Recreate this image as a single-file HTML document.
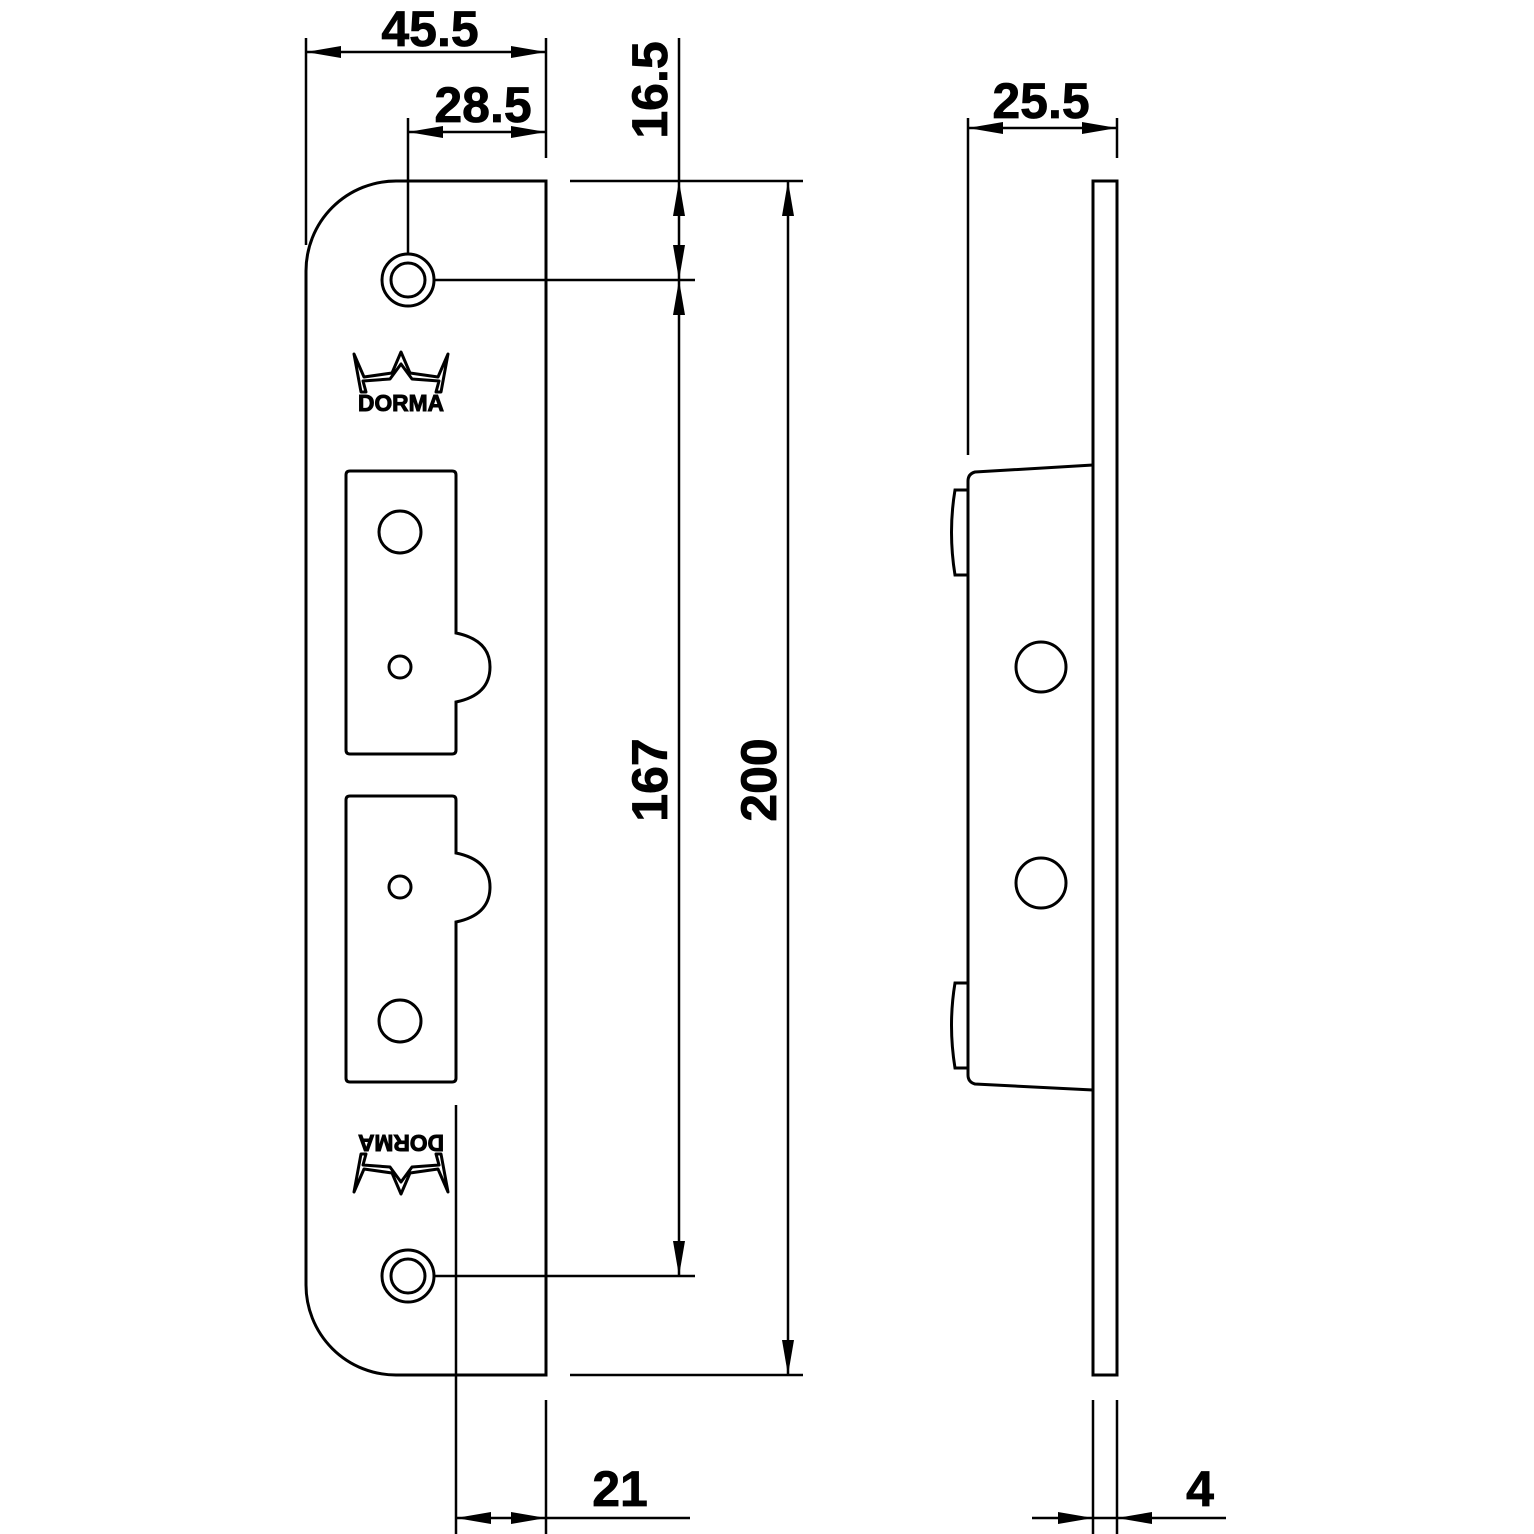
<!DOCTYPE html>
<html><head><meta charset="utf-8"><style>html,body{margin:0;padding:0;background:#fff}svg{display:block}</style></head>
<body>
<svg width="1534" height="1534" viewBox="0 0 1534 1534" xmlns="http://www.w3.org/2000/svg">
<defs>
<g id="ar"><polygon points="0,0 -35,-6 -35,6" fill="#000"/></g>
<g id="logo">
<path d="M-47,-28 L-37,-5 L-9,-9 L0,-30 L9,-9 L37,-5 L47,-28 L40,10 L35,10 L38,-1 L11,-3 L0,-18 L-11,-3 L-38,-1 L-35,10 L-40,10 Z" fill="none" stroke="#000" stroke-width="3" stroke-linejoin="round"/>
<text x="0" y="29" text-anchor="middle" font-family="Liberation Sans, sans-serif" font-weight="bold" font-size="23" stroke="#000" stroke-width="1" textLength="86" lengthAdjust="spacingAndGlyphs">DORMA</text>
</g>
</defs>
<g fill="none" stroke="#000" stroke-width="3">
<path d="M546,181 L396,181 A90,90 0 0 0 306,271 L306,1285 A90,90 0 0 0 396,1375 L546,1375 Z"/>
<circle cx="408" cy="280" r="26"/><circle cx="408" cy="280" r="17"/>
<circle cx="408" cy="1276" r="26"/><circle cx="408" cy="1276" r="17"/>
<path d="M350,471 L452,471 Q456,471 456,475 L456,633 Q490,640 490,667 Q490,695 456,702 L456,750 Q456,754 452,754 L350,754 Q346,754 346,750 L346,475 Q346,471 350,471 Z"/>
<circle cx="400" cy="532" r="21"/><circle cx="400" cy="667" r="11"/>
<path d="M350,796 L452,796 Q456,796 456,800 L456,853 Q490,860 490,887 Q490,915 456,922 L456,1078 Q456,1082 452,1082 L350,1082 Q346,1082 346,1078 L346,800 Q346,796 350,796 Z"/>
<circle cx="400" cy="887" r="11"/><circle cx="400" cy="1021" r="21"/>
<rect x="1093" y="181" width="24" height="1194"/>
<path d="M1093,465 L975,472 Q968,474 968,481 L968,1075 Q968,1082 975,1084 L1093,1090"/>
<path d="M968,490 L955,490 Q948,532 955,575 L968,575"/>
<path d="M968,983 L955,983 Q948,1025 955,1068 L968,1068"/>
<circle cx="1041" cy="667" r="25"/><circle cx="1041" cy="883" r="25"/>
</g>
<g stroke="#000" stroke-width="2.5">
<line x1="306" y1="38" x2="306" y2="245"/>
<line x1="546" y1="38" x2="546" y2="158"/>
<line x1="408" y1="118" x2="408" y2="254"/>
<line x1="435" y1="280" x2="695" y2="280"/>
<line x1="435" y1="1276" x2="695" y2="1276"/>
<line x1="570" y1="181" x2="803" y2="181"/>
<line x1="570" y1="1375" x2="803" y2="1375"/>
<line x1="456" y1="1105" x2="456" y2="1534"/>
<line x1="546" y1="1400" x2="546" y2="1534"/>
<line x1="968" y1="118" x2="968" y2="455"/>
<line x1="1117" y1="118" x2="1117" y2="158"/>
<line x1="1093" y1="1400" x2="1093" y2="1534"/>
<line x1="1117" y1="1400" x2="1117" y2="1534"/>
<line x1="306" y1="52" x2="546" y2="52"/>
<line x1="408" y1="132" x2="546" y2="132"/>
<line x1="679" y1="38" x2="679" y2="1276"/>
<line x1="788" y1="181" x2="788" y2="1375"/>
<line x1="456" y1="1518" x2="690" y2="1518"/>
<line x1="968" y1="128" x2="1117" y2="128"/>
<line x1="1032" y1="1518" x2="1226" y2="1518"/>
</g>
<use href="#ar" transform="translate(306,52) rotate(180)"/>
<use href="#ar" transform="translate(546,52)"/>
<use href="#ar" transform="translate(408,132) rotate(180)"/>
<use href="#ar" transform="translate(546,132)"/>
<use href="#ar" transform="translate(679,181) rotate(-90)"/>
<use href="#ar" transform="translate(679,280) rotate(90)"/>
<use href="#ar" transform="translate(679,280) rotate(-90)"/>
<use href="#ar" transform="translate(679,1276) rotate(90)"/>
<use href="#ar" transform="translate(788,181) rotate(-90)"/>
<use href="#ar" transform="translate(788,1375) rotate(90)"/>
<use href="#ar" transform="translate(456,1518) rotate(180)"/>
<use href="#ar" transform="translate(546,1518)"/>
<use href="#ar" transform="translate(968,128) rotate(180)"/>
<use href="#ar" transform="translate(1117,128)"/>
<use href="#ar" transform="translate(1093,1518)"/>
<use href="#ar" transform="translate(1117,1518) rotate(180)"/>
<use href="#logo" transform="translate(401,382)"/>
<use href="#logo" transform="translate(401,1164) rotate(180)"/>
<g font-family="Liberation Sans, sans-serif" font-weight="bold" font-size="50" fill="#000" stroke="#000" stroke-width="0.8">
<text x="430" y="46" text-anchor="middle">45.5</text>
<text x="483" y="122" text-anchor="middle">28.5</text>
<text x="1041" y="118" text-anchor="middle">25.5</text>
<text x="620" y="1506" text-anchor="middle">21</text>
<text x="1200" y="1506" text-anchor="middle">4</text>
<text transform="translate(667,90) rotate(-90)" text-anchor="middle">16.5</text>
<text transform="translate(667,780) rotate(-90)" text-anchor="middle">167</text>
<text transform="translate(776,780) rotate(-90)" text-anchor="middle">200</text>
</g>
</svg>
</body></html>
